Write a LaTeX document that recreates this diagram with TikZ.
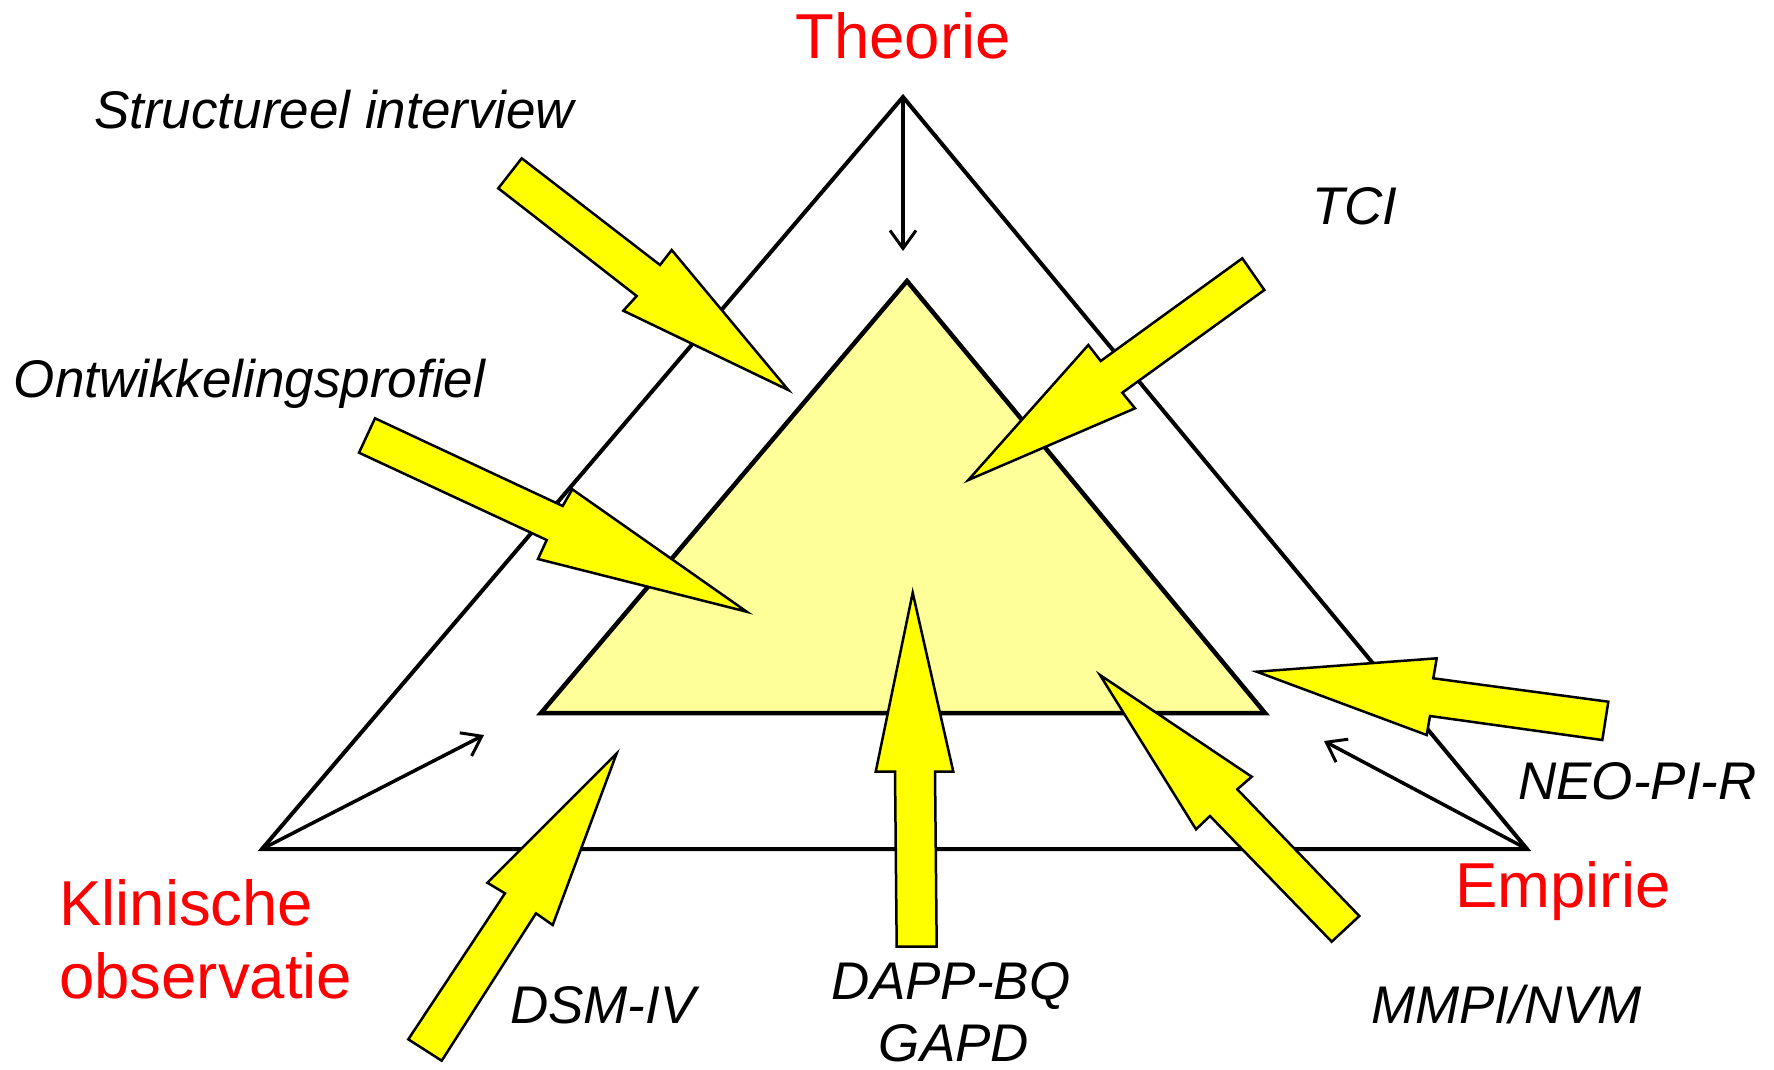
\documentclass[tikz,border=0pt]{standalone}
\usepackage{fontspec}
\setmainfont{Liberation Sans}
\usetikzlibrary{arrows.meta}
\definecolor{arrowyellow}{HTML}{FFFF00}
\definecolor{paleyellow}{HTML}{FFFF99}
\begin{document}
\begin{tikzpicture}[x=1pt,y=-1pt,
  blockarrow/.style={fill=arrowyellow, draw=black, line width=2.5pt, line join=miter},
  frame/.style={draw=black, line width=4pt, line join=miter},
  innerframe/.style={draw=black, fill=paleyellow, line width=4.5pt, line join=miter},
  thinarrow/.style={draw=black, line width=3.5pt, -{Straight Barb[length=18pt,width=26pt,line width=3pt]}},
  polelabel/.style={text=red, font=\fontsize{63.5}{73}\selectfont, inner sep=0pt, anchor=base west},
  toollabel/.style={text=black, font=\fontsize{53}{60}\selectfont\itshape, inner sep=0pt, anchor=base west}]
\useasboundingbox (0,0) rectangle (1774,1069);
% outer triangle
\coordinate (T) at (903,97);
\coordinate (K) at (262,849);
\coordinate (E) at (1527,849);
\draw[frame] (T) -- (K) -- (E) -- cycle;
% inner triangle
\coordinate (iT) at (907,281);
\coordinate (iK) at (541,713);
\coordinate (iE) at (1265,713);
\draw[innerframe] (iT) -- (iK) -- (iE) -- cycle;
% thin arrows
\coordinate (tT) at (903,251);
\coordinate (tK) at (484,735);
\coordinate (tE) at (1324,741);
\draw[thinarrow] (T) -- (tT);
\draw[thinarrow] (K) -- (tK);
\draw[thinarrow] (E) -- (tE);
% yellow block arrows
\draw[blockarrow] (521.7,158.3) -- (660,265) -- (671.7,250) -- (788.3,390) -- (623.3,310.7) -- (636.7,296) -- (498.3,188.3) -- cycle;
\draw[blockarrow] (1242.3,258.3) -- (1100.7,361) -- (1088.3,345) -- (968.3,480) -- (1135,408.3) -- (1122.3,392.7) -- (1264.3,290) -- cycle;
\draw[blockarrow] (375,418.3) -- (562.7,506) -- (572.3,489.3) -- (746.7,611.7) -- (538,559) -- (546.7,540) -- (359,452.7) -- cycle;
\draw[blockarrow] (1608.3,701.7) -- (1433.3,678.3) -- (1436.7,658.3) -- (1256.7,671.7) -- (1426.7,735) -- (1430,716) -- (1602.3,740) -- cycle;
\draw[blockarrow] (408.3,1039.3) -- (505,893.3) -- (487.3,882.7) -- (616.7,753.3) -- (552.7,925) -- (536,913.3) -- (441.7,1060.7) -- cycle;
\draw[blockarrow] (896.7,946.7) -- (895,771.7) -- (875.7,771.7) -- (912.7,592.7) -- (953.3,771.7) -- (935,771.7) -- (936.7,946.7) -- cycle;
\draw[blockarrow] (1331.7,941.7) -- (1210,816) -- (1196,829.3) -- (1100,675) -- (1251.7,776.7) -- (1237.3,789.3) -- (1359.3,916) -- cycle;
% pole labels
\node[polelabel, anchor=base] (theorie) at (903,58) {Theorie};
\node[polelabel] (klin1) at (59,925) {Klinische};
\node[polelabel] (klin2) at (59,998) {observatie};
\node[polelabel] (empirie) at (1455,907) {Empirie};
% instrument labels
\node[toollabel] (struct) at (94,128) {Structureel interview};
\node[toollabel] (tci) at (1312,224) {TCI};
\node[toollabel] (ontw) at (13.6,397) {Ontwikkelingsprofiel};
\node[toollabel] (neo) at (1518,799) {NEO-PI-R};
\node[toollabel] (dsm) at (510,1023) {DSM-IV};
\node[toollabel, anchor=base] (dapp) at (951,999) {DAPP-BQ};
\node[toollabel, anchor=base] (gapd) at (954,1061) {GAPD};
\node[toollabel] (mmpi) at (1371,1023) {MMPI/NVM};
\end{tikzpicture}
\end{document}
